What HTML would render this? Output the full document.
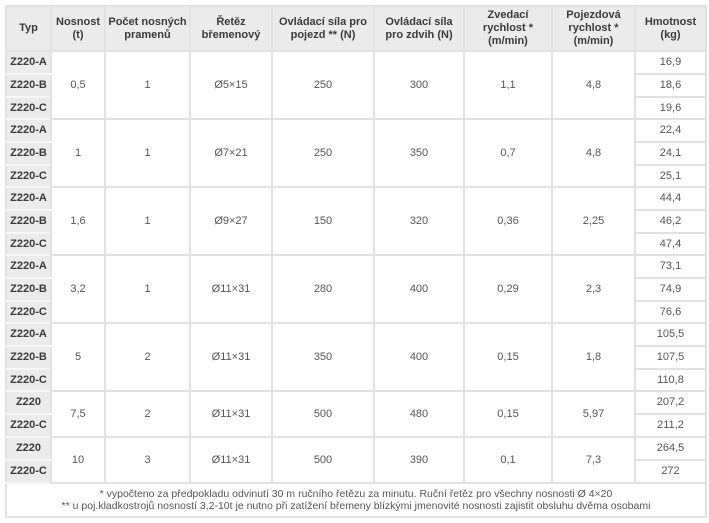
<!DOCTYPE html>
<html><head><meta charset="utf-8"><style>
html,body{margin:0;padding:0;background:#fff;width:709px;height:523px;overflow:hidden}
table{position:absolute;left:5px;top:5px;border-collapse:collapse;table-layout:fixed;width:700px;font-family:"Liberation Sans",Arial,sans-serif;font-size:11px;color:#555}
td,th{border:2px solid #e2e2e2;text-align:center;vertical-align:middle;padding:0;line-height:13px}
th{background:#ebebeb;color:#3a3a3a;font-weight:bold;height:43px}
td.t{background:#ebebeb;color:#3a3a3a;font-weight:bold;border-color:#f6f6f6 #e2e2e2}
tr.a td{height:21px}
tr.b td{height:20px}
tr.c td{height:21px}
td.f{height:32px;font-size:10.5px;line-height:12px}
</style></head><body>
<table>
<colgroup><col style="width:45px"><col style="width:54px"><col style="width:85px"><col style="width:82px"><col style="width:102px"><col style="width:90px"><col style="width:88px"><col style="width:83px"><col style="width:71px"></colgroup>
<tr><th>Typ</th><th>Nosnost<br>(t)</th><th>Počet nosných<br>pramenů</th><th>Řetěz<br>břemenový</th><th>Ovládací síla pro<br>pojezd ** (N)</th><th>Ovládací síla<br>pro zdvih (N)</th><th>Zvedací<br>rychlost *<br>(m/min)</th><th>Pojezdová<br>rychlost *<br>(m/min)</th><th>Hmotnost<br>(kg)</th></tr>

<tr class="a"><td class="t">Z220-A</td><td rowspan="3">0,5</td><td rowspan="3">1</td><td rowspan="3">Ø5×15</td><td rowspan="3">250</td><td rowspan="3">300</td><td rowspan="3">1,1</td><td rowspan="3">4,8</td><td>16,9</td></tr>
<tr class="a"><td class="t">Z220-B</td><td>18,6</td></tr>
<tr class="b"><td class="t">Z220-C</td><td>19,6</td></tr>

<tr class="a"><td class="t">Z220-A</td><td rowspan="3">1</td><td rowspan="3">1</td><td rowspan="3">Ø7×21</td><td rowspan="3">250</td><td rowspan="3">350</td><td rowspan="3">0,7</td><td rowspan="3">4,8</td><td>22,4</td></tr>
<tr class="a"><td class="t">Z220-B</td><td>24,1</td></tr>
<tr class="b"><td class="t">Z220-C</td><td>25,1</td></tr>

<tr class="a"><td class="t">Z220-A</td><td rowspan="3">1,6</td><td rowspan="3">1</td><td rowspan="3">Ø9×27</td><td rowspan="3">150</td><td rowspan="3">320</td><td rowspan="3">0,36</td><td rowspan="3">2,25</td><td>44,4</td></tr>
<tr class="a"><td class="t">Z220-B</td><td>46,2</td></tr>
<tr class="b"><td class="t">Z220-C</td><td>47,4</td></tr>

<tr class="a"><td class="t">Z220-A</td><td rowspan="3">3,2</td><td rowspan="3">1</td><td rowspan="3">Ø11×31</td><td rowspan="3">280</td><td rowspan="3">400</td><td rowspan="3">0,29</td><td rowspan="3">2,3</td><td>73,1</td></tr>
<tr class="a"><td class="t">Z220-B</td><td>74,9</td></tr>
<tr class="b"><td class="t">Z220-C</td><td>76,6</td></tr>

<tr class="a"><td class="t">Z220-A</td><td rowspan="3">5</td><td rowspan="3">2</td><td rowspan="3">Ø11×31</td><td rowspan="3">350</td><td rowspan="3">400</td><td rowspan="3">0,15</td><td rowspan="3">1,8</td><td>105,5</td></tr>
<tr class="a"><td class="t">Z220-B</td><td>107,5</td></tr>
<tr class="b"><td class="t">Z220-C</td><td>110,8</td></tr>

<tr class="c"><td class="t">Z220</td><td rowspan="2">7,5</td><td rowspan="2">2</td><td rowspan="2">Ø11×31</td><td rowspan="2">500</td><td rowspan="2">480</td><td rowspan="2">0,15</td><td rowspan="2">5,97</td><td>207,2</td></tr>
<tr class="c"><td class="t">Z220-C</td><td>211,2</td></tr>

<tr class="c"><td class="t">Z220</td><td rowspan="2">10</td><td rowspan="2">3</td><td rowspan="2">Ø11×31</td><td rowspan="2">500</td><td rowspan="2">390</td><td rowspan="2">0,1</td><td rowspan="2">7,3</td><td>264,5</td></tr>
<tr class="c"><td class="t">Z220-C</td><td>272</td></tr>

<tr><td class="f" colspan="9">* vypočteno za předpokladu odvinutí 30 m ručního řetězu za minutu. Ruční řetěz pro všechny nosnosti Ø 4×20<br>** u poj.kladkostrojů nosností 3,2-10t je nutno při zatížení břemeny blízkými jmenovité nosnosti zajistit obsluhu dvěma osobami</td></tr>
</table>
</body></html>
